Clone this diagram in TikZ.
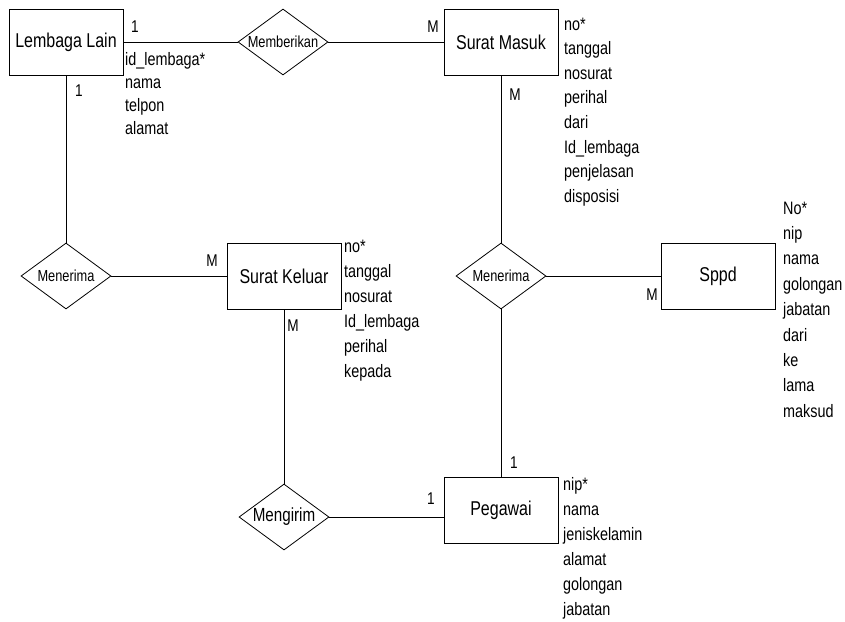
\documentclass[tikz,border=0pt]{standalone}
\usepackage{fontspec}
\setmainfont{Liberation Sans}[FakeStretch=0.8]
\usetikzlibrary{shapes.geometric}

\tikzstyle{entitas} = [draw=black, line width=0.8pt, rectangle,
    minimum width=114pt, minimum height=66pt, inner sep=0pt,
    font=\fontsize{20}{24}\selectfont]
\tikzstyle{relasi} = [draw=black, line width=0.8pt, diamond, aspect=1.4,
    minimum width=90pt, minimum height=66pt, inner sep=0pt,
    font=\fontsize{16}{18}\selectfont]
\tikzstyle{atribut} = [anchor=base west, inner sep=0pt, font=\fontsize{18}{22}\selectfont]
\tikzstyle{kardinal} = [inner sep=0pt, font=\fontsize{17}{20}\selectfont]
\tikzstyle{garis} = [draw=black, line width=0.8pt]

\begin{document}
\begin{tikzpicture}[x=1pt, y=-1pt]
\useasboundingbox (0,0) rectangle (845,621);

% entitas
\node [entitas] (lembaga) at (66,42) {Lembaga Lain};
\node [entitas] (suratmasuk) at (501,42) {Surat Masuk};
\node [entitas] (suratkeluar) at (284,276) {Surat Keluar};
\node [entitas] (sppd) at (718,276) {Sppd};
\node [entitas] (pegawai) at (501,510) {Pegawai};

% relasi
\node [relasi] (memberikan) at (283,42) {Memberikan};
\node [relasi] (menerimalembaga) at (66,276) {Menerima};
\node [relasi] (menerimasppd) at (501,276) {Menerima};
\node [relasi, font=\fontsize{19}{22}\selectfont] (mengirim) at (284,517) {Mengirim};

% garis penghubung
\draw [garis] (lembaga) -- (memberikan) -- (suratmasuk);
\draw [garis] (lembaga) -- (menerimalembaga) -- (suratkeluar);
\draw [garis] (suratkeluar) -- (mengirim);
\draw [garis] (mengirim.east) -- (mengirim.east -| pegawai.west);
\draw [garis] (suratmasuk) -- (menerimasppd) -- (pegawai);
\draw [garis] (menerimasppd) -- (sppd);

% kardinalitas
\node [kardinal] (k1) at (135,27) {1};
\node [kardinal] (k2) at (433,27) {M};
\node [kardinal] (k3) at (79,91) {1};
\node [kardinal] (k4) at (515,95) {M};
\node [kardinal] (k5) at (212,261) {M};
\node [kardinal] (k6) at (293,326) {M};
\node [kardinal] (k7) at (652,295) {M};
\node [kardinal] (k8) at (514,463) {1};
\node [kardinal] (k9) at (431,499) {1};

% atribut
\foreach \atr [count=\i from 0] in {id\_lembaga*, nama, telpon, alamat}
    \node [atribut] (atrlembaga\i) at (125,{65+23.3*\i}) {\atr};
\foreach \atr [count=\i from 0] in {no*, tanggal, nosurat, perihal, dari,
        Id\_lembaga, penjelasan, disposisi}
    \node [atribut] (atrmasuk\i) at (564,{30+24.6*\i}) {\atr};
\foreach \atr [count=\i from 0] in {no*, tanggal, nosurat, Id\_lembaga,
        perihal, kepada}
    \node [atribut] (atrkeluar\i) at (344,{252+25*\i}) {\atr};
\foreach \atr [count=\i from 0] in {No*, nip, nama, golongan, jabatan, dari,
        ke, lama, maksud}
    \node [atribut] (atrsppd\i) at (783,{214+25.4*\i}) {\atr};
\foreach \atr [count=\i from 0] in {nip*, nama, jeniskelamin, alamat,
        golongan, jabatan}
    \node [atribut] (atrpegawai\i) at (563,{490+25*\i}) {\atr};
\end{tikzpicture}
\end{document}
